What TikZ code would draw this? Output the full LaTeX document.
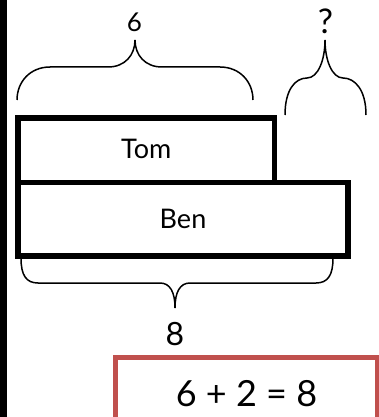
\documentclass[tikz,border=0pt]{standalone}
\usepackage{fontspec}
\setmainfont{Lato}
\usetikzlibrary{positioning}
\definecolor{sumred}{RGB}{192,80,77}

\begin{document}
\begin{tikzpicture}[%
    x=1pt, y=-1pt,
    bar/.style={rectangle, draw=black, line width=5.5pt, outer sep=0pt, inner sep=0pt, font=\fontsize{27}{30}\selectfont},
    brace/.style={draw=black, line width=1.5pt},
    lbl/.style={inner sep=0pt, font=\fontsize{#1}{#1}\selectfont},
    sumbox/.style={rectangle, draw=sumred, line width=5pt, outer sep=0pt, font=\fontsize{36}{40}\selectfont}
]

\useasboundingbox (0,0) rectangle (379,417);

% left edge
\fill[black] (0,0) rectangle (7,417);

% bars
\node[bar, minimum width=256.5pt, minimum height=64.5pt] (tom) at (146.25,150.25) {\raisebox{2.5pt}{Tom}};
\node[bar, minimum width=330pt, minimum height=73.5pt] (ben) [below right=0pt and 0pt of tom.south west] {Ben};

% braces
\draw[brace] (17,100) .. controls (17,82) and (30,67) .. (50,67) -- (108,67)
    .. controls (125,67) and (135,55) .. (135,40)
    .. controls (135,55) and (145,67) .. (162,67) -- (220,67)
    .. controls (240,67) and (253,82) .. (253,100);
\draw[brace] (285,115) .. controls (285,90) and (295,78) .. (307,78)
    .. controls (318,78) and (325,60) .. (325,40)
    .. controls (325,60) and (332,78) .. (343,78)
    .. controls (355,78) and (366,90) .. (366,115);
\draw[brace] (21,258) .. controls (21,275) and (26,283) .. (38,283) -- (160,283)
    .. controls (170,283) and (175,292) .. (175,308)
    .. controls (175,292) and (180,283) .. (190,283) -- (316,283)
    .. controls (328,283) and (333,275) .. (333,258);

% labels
\node[lbl=26] (six) at (134.5,22) {6};
\node[lbl=34] (unknown) at (325.5,21.5) {?};
\node[lbl=32] (eight) at (175,334.5) {8};

% sum
\node[sumbox, minimum width=262pt, minimum height=72.5pt] (sum) at (246.5,393.75) {6 + 2 = 8};

\end{tikzpicture}
\end{document}
